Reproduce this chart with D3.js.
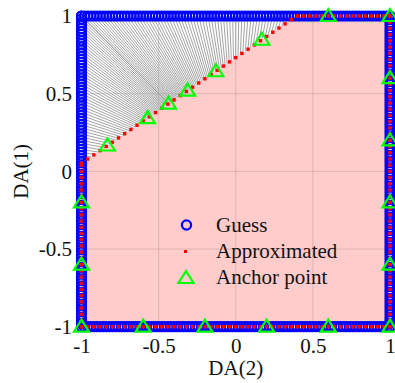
<!DOCTYPE html>
<html>
<head>
<meta charset="utf-8">
<script src="https://cdn.jsdelivr.net/npm/d3@7"></script>
<style>
  html, body { margin: 0; padding: 0; background: #fff; }
  text { font-family: "Liberation Serif", "Times New Roman", serif; }
</style>
</head>
<body>
<div id="chart"></div>
<script>
// guesses on the square border, every 0.02
const guessGrid = [-1,-0.98,-0.96,-0.94,-0.92,-0.9,-0.88,-0.86,-0.84,-0.82,-0.8,-0.78,-0.76,-0.74,-0.72,-0.7,-0.68,-0.66,-0.64,-0.62,-0.6,-0.58,-0.56,-0.54,-0.52,-0.5,-0.48,-0.46,-0.44,-0.42,-0.4,-0.38,-0.36,-0.34,-0.32,-0.3,-0.28,-0.26,-0.24,-0.22,-0.2,-0.18,-0.16,-0.14,-0.12,-0.1,-0.08,-0.06,-0.04,-0.02,0,0.02,0.04,0.06,0.08,0.1,0.12,0.14,0.16,0.18,0.2,0.22,0.24,0.26,0.28,0.3,0.32,0.34,0.36,0.38,0.4,0.42,0.44,0.46,0.48,0.5,0.52,0.54,0.56,0.58,0.6,0.62,0.64,0.66,0.68,0.7,0.72,0.74,0.76,0.78,0.8,0.82,0.84,0.86,0.88,0.9,0.92,0.94,0.96,0.98,1];
// approximated points, every 0.04
const approxGrid = [-1,-0.96,-0.92,-0.88,-0.84,-0.8,-0.76,-0.72,-0.68,-0.64,-0.6,-0.56,-0.52,-0.48,-0.44,-0.4,-0.36,-0.32,-0.28,-0.24,-0.2,-0.16,-0.12,-0.08,-0.04,0,0.04,0.08,0.12,0.16,0.2,0.24,0.28,0.32,0.36,0.4,0.44,0.48,0.52,0.56,0.6,0.64,0.68,0.72,0.76,0.8,0.84,0.88,0.92,0.96,1];
// anchor points (on the border)
const anchorX = [-1,-0.6,-0.2,0.2,0.6,1, 1,1,1,1,1, 0.6,0.2,-0.2,-0.6,-1, -1,-1,-1,-1];
const anchorY = [-1,-1,-1,-1,-1,-1, -0.6,-0.2,0.2,0.6,1, 1,1,1,1,1, 0.6,0.2,-0.2,-0.6];
// constraint line DA(1) = c0 + c1*DA(2)
const lineC0 = 0.732, lineC1 = 0.68;
const regionX = [-1, 1, 1, 0.394, -1];
const regionY = [-1, -1, 1, 1, 0.052];
const tickVals = [-1, -0.5, 0, 0.5, 1];
const tickLabels = ["-1", "-0.5", "0", "0.5", "1"];
const legendLabels = ["Guess", "Approximated", "Anchor point"];

const W = 395, H = 383;
const x = d3.scaleLinear([-1, 1], [81.5, 390]);
const y = d3.scaleLinear([-1, 1], [326.7, 16]);

const svg = d3.select("#chart").append("svg")
  .attr("width", W).attr("height", H);

const above = (px, py) => py > lineC0 + lineC1 * px + 1e-9;
// radial projection onto the line (towards origin)
function project(px, py) {
  const t = lineC0 / (py - lineC1 * px);
  return [px * t, py * t];
}

// region
svg.append("path")
  .attr("d", d3.line()(regionX.map((v, i) => [x(v), y(regionY[i])])) + "Z")
  .attr("fill", "#ffcccc");

// grid
const grid = svg.append("g").attr("stroke", "#000").attr("stroke-opacity", 0.13).attr("stroke-width", 1);
tickVals.slice(1, -1).forEach(v => {
  grid.append("line").attr("x1", x(v)).attr("x2", x(v)).attr("y1", y(-1)).attr("y2", y(1));
  grid.append("line").attr("y1", y(v)).attr("y2", y(v)).attr("x1", x(-1)).attr("x2", x(1));
});

// guesses
const guesses = [];
guessGrid.forEach(v => {
  guesses.push([v, -1], [1, v], [v, 1], [-1, v]);
});

// gray lines guess -> approximation
svg.append("g").selectAll("line")
  .data(guesses.filter(d => above(d[0], d[1])))
  .join("line")
  .attr("x1", d => x(d[0])).attr("y1", d => y(d[1]))
  .attr("x2", d => x(project(d[0], d[1])[0]))
  .attr("y2", d => y(project(d[0], d[1])[1]))
  .attr("stroke", "#8c8c8c").attr("stroke-width", 0.8);

svg.append("g").selectAll("circle")
  .data(guesses)
  .join("circle")
  .attr("cx", d => x(d[0])).attr("cy", d => y(d[1]))
  .attr("r", 4.6)
  .attr("fill", "none").attr("stroke", "#0000ff").attr("stroke-width", 2);

// approximated
const approx = [];
approxGrid.forEach(v => {
  approx.push([v, -1], [1, v]);
  if (!above(-1, v)) approx.push([-1, v]);
  const ly = lineC0 + lineC1 * v;
  approx.push(ly < 1 ? [v, ly] : [v, 1]);
});
svg.append("g").selectAll("rect")
  .data(approx)
  .join("rect")
  .attr("x", d => x(d[0]) - 1.7).attr("y", d => y(d[1]) - 1.7)
  .attr("width", 3.4).attr("height", 3.4)
  .attr("fill", "#ff0000");

// anchors
const tri = "M0,-7L7.5,5L-7.5,5Z";
const anchors = anchorX.map((v, i) => above(v, anchorY[i]) ? project(v, anchorY[i]) : [v, anchorY[i]]);
svg.append("g").selectAll("path")
  .data(anchors)
  .join("path")
  .attr("d", tri)
  .attr("transform", d => `translate(${x(d[0])},${y(d[1])})`)
  .attr("fill", "none").attr("stroke", "#00ff00").attr("stroke-width", 2.2)
  .attr("stroke-linejoin", "miter");

// axes
const fs = "21px";
const xAxis = svg.append("g").attr("transform", `translate(0,${y(-1)})`)
  .call(d3.axisBottom(x).tickValues(tickVals).tickFormat((d, i) => tickLabels[i]).tickSize(0).tickPadding(11));
const yAxis = svg.append("g").attr("transform", `translate(${x(-1)},0)`)
  .call(d3.axisLeft(y).tickValues(tickVals).tickFormat((d, i) => tickLabels[i]).tickSize(0).tickPadding(9.5));
[xAxis, yAxis].forEach(a => {
  a.select(".domain").remove();
  a.selectAll("text").attr("font-family", "Liberation Serif").attr("font-size", fs).attr("fill", "#111");
});

svg.append("text")
  .attr("x", x(0)).attr("y", 375)
  .attr("text-anchor", "middle").attr("font-size", fs).attr("fill", "#111")
  .text("DA(2)");
svg.append("text")
  .attr("transform", `translate(28,${y(0)}) rotate(-90)`)
  .attr("text-anchor", "middle").attr("font-size", fs).attr("fill", "#111")
  .text("DA(1)");

// legend
const leg = svg.append("g");
const rowY = [225, 251.5, 277];
leg.append("circle").attr("cx", 186.5).attr("cy", rowY[0]).attr("r", 4.6)
  .attr("fill", "none").attr("stroke", "#0000ff").attr("stroke-width", 2.2);
leg.append("rect").attr("x", 184).attr("y", rowY[1] - 1.5).attr("width", 3).attr("height", 3).attr("fill", "#ff0000");
leg.append("path").attr("d", tri).attr("transform", `translate(186,${rowY[2] + 1})`)
  .attr("fill", "none").attr("stroke", "#00ff00").attr("stroke-width", 2.2);
leg.selectAll("text.lab")
  .data(legendLabels)
  .join("text")
  .attr("class", "lab")
  .attr("x", 216).attr("y", (d, i) => rowY[i] + 6.5)
  .attr("font-size", fs).attr("fill", "#111")
  .text(d => d);
</script>
</body>
</html>
